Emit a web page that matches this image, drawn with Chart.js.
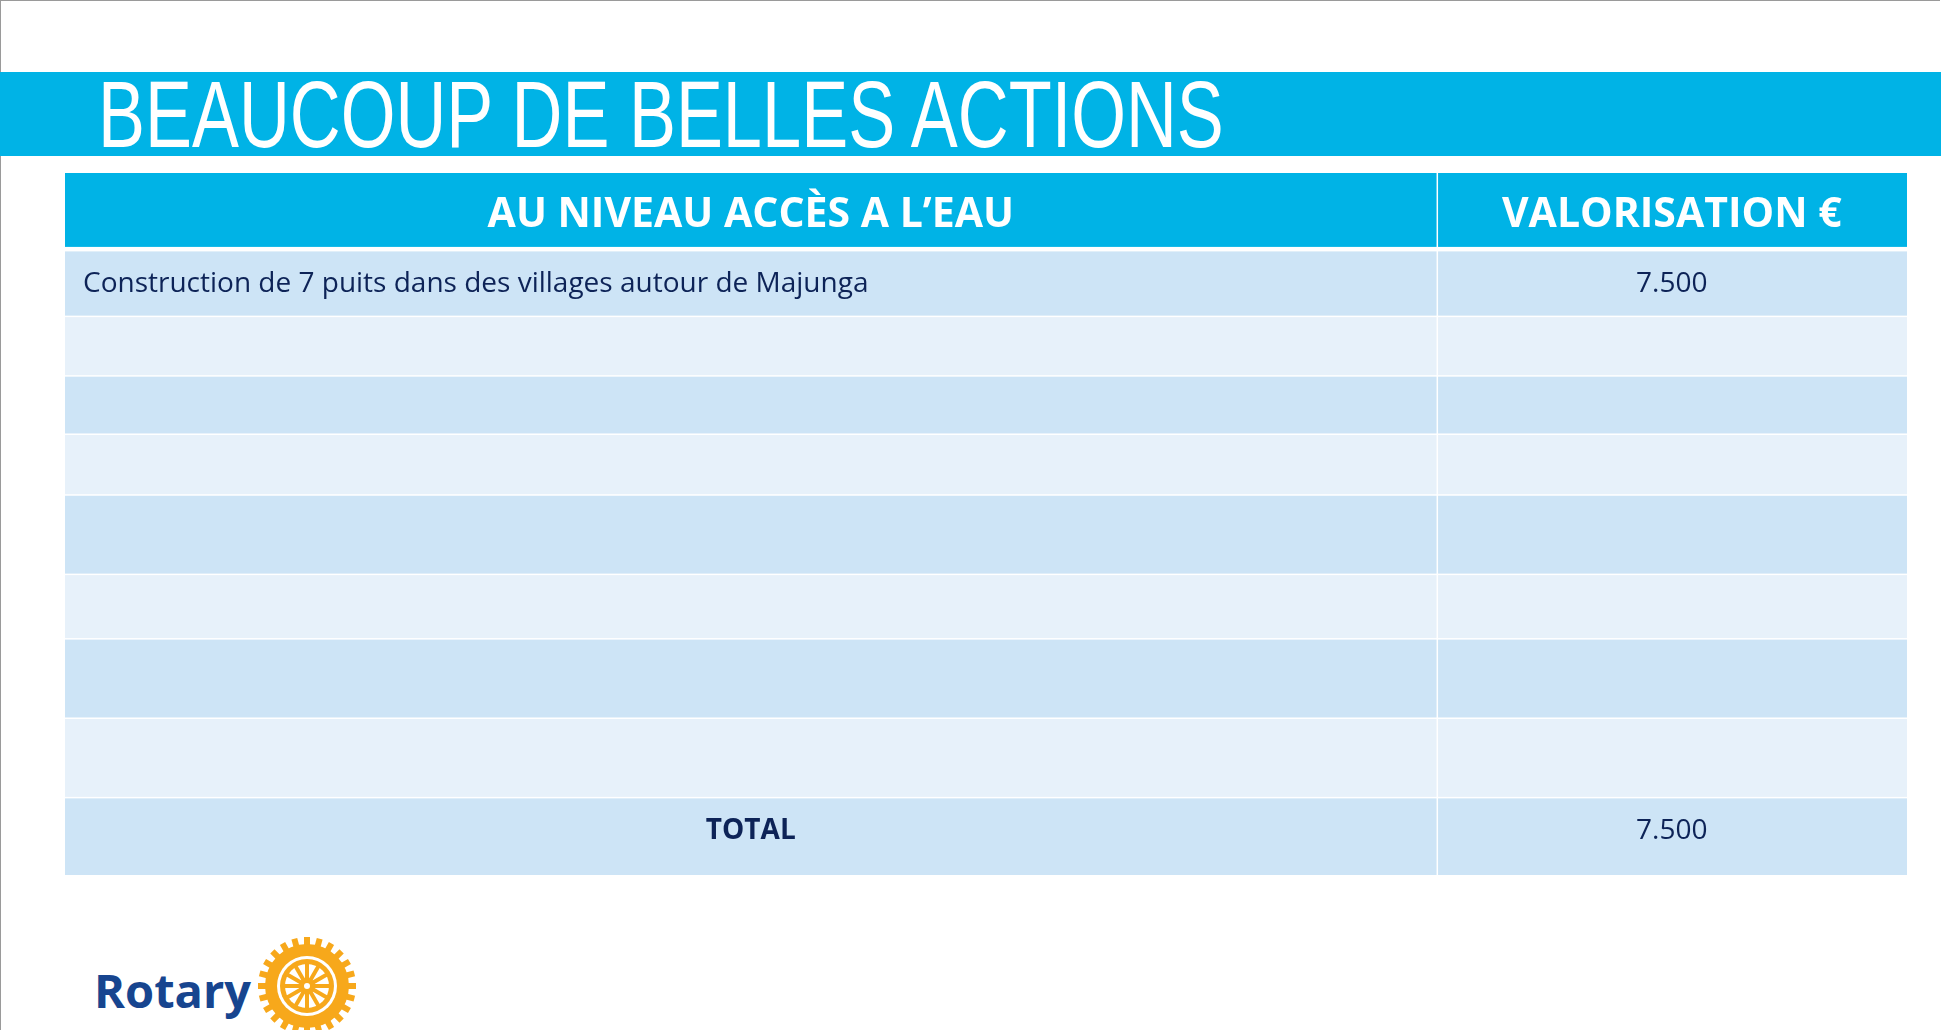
<!DOCTYPE html>
<html><head><meta charset="utf-8">
<script src="https://cdn.jsdelivr.net/npm/chart.js@4"></script>
<style>
body{margin:0;width:1941px;height:1030px;overflow:hidden;background:#fff;position:relative;font-family:"Open Sans",sans-serif}
#frame{position:absolute;left:0;top:0;width:1939px;height:1030px;border-left:1px solid #9a9a9a;border-top:1px solid #9a9a9a}
#band{position:absolute;left:0;top:72px;width:1941px;height:84px;background:#00b3e6}
#title{position:absolute;left:98px;top:68px;font-family:"Liberation Sans Narrow","Liberation Sans",sans-serif;font-size:94px;color:#fff;white-space:nowrap;line-height:1;transform-origin:left top}
#wrap{position:absolute;left:65px;top:173px;width:1842px;height:702px}
#rotary{position:absolute;left:94px;top:958px;font-family:"Open Sans",sans-serif;font-weight:700;font-size:47px;color:#17458f}
#wheel{position:absolute;left:257px;top:936px}
</style></head><body>
<div id="frame"></div>
<div id="band"></div>
<div id="title">BEAUCOUP DE BELLES ACTIONS</div>
<div id="wrap"><canvas id="t"></canvas></div>
<div id="rotary">Rotary</div>
<canvas id="wheel" width="100" height="100"></canvas>
<script>
const headers = ['AU NIVEAU ACCÈS A L’EAU', 'VALORISATION €'];
const actions = ['Construction de 7 puits dans des villages autour de Majunga', '', '', '', '', '', '', '', 'TOTAL'];
const values = ['7.500', '', '', '', '', '', '', '', '7.500'];
// row boundaries (top edge of each row, then bottom of last), header first
const rowEdges = [140, 202, 255, 303, 350, 399, 463, 515, 579, 643, 706];
const colEdges = [0, 0.7446, 1];

const tablePlugin = {
  id: 'table',
  afterDraw(chart) {
    const c = chart.ctx, xs = chart.scales.x, ys = chart.scales.y;
    const gap = 1.5;
    for (let r = 0; r < rowEdges.length - 1; r++) {
      const y0 = ys.getPixelForValue(rowEdges[r]), y1 = ys.getPixelForValue(rowEdges[r + 1]);
      for (let k = 0; k < 2; k++) {
        const x0 = xs.getPixelForValue(colEdges[k]), x1 = xs.getPixelForValue(colEdges[k + 1]);
        c.fillStyle = r === 0 ? '#00b3e6' : (r % 2 === 1 ? '#cde4f6' : '#e7f1fa');
        c.fillRect(x0 + (k ? gap : 0), y0 + (r ? gap : 0), x1 - x0 - (k ? gap : 0), y1 - y0 - (r ? gap : 0) - (r === 0 ? 3 : 0));
        let txt, bold = false, align = 'center', tx = (x0 + x1) / 2, ty;
        if (r === 0) {
          txt = headers[k]; bold = true;
          c.fillStyle = '#fff'; c.font = '700 41px "Open Sans", sans-serif';
          ty = (y0 + y1) / 2 + 4;
        } else {
          const i = r - 1;
          txt = k === 0 ? actions[i] : values[i];
          if (k === 0 && i < actions.length - 1) { align = 'left'; tx = x0 + 18; }
          if (k === 0 && i === actions.length - 1) bold = true;
          c.fillStyle = '#0d2357';
          c.font = (bold ? '700 ' : '400 ') + '28px "Open Sans", sans-serif';
          ty = y0 + 34;
        }
        c.textAlign = align; c.textBaseline = 'middle';
        c.fillText(txt, tx, ty);
      }
    }
  }
};

new Chart(document.getElementById('t'), {
  type: 'scatter',
  data: { datasets: [{ data: [] }] },
  options: {
    responsive: true, maintainAspectRatio: false, animation: false,
    layout: { padding: 0 },
    plugins: { legend: { display: false }, tooltip: { enabled: false } },
    scales: {
      x: { type: 'linear', min: 0, max: 1, display: false },
      y: { type: 'linear', min: rowEdges[0], max: rowEdges[rowEdges.length - 1], reverse: true, display: false }
    }
  },
  plugins: [tablePlugin]
});

// fit title width
const ti = document.getElementById('title');
ti.style.transform = 'scaleX(' + (1126 / ti.offsetWidth) + ')';

// Rotary wheel emblem
const w = document.getElementById('wheel').getContext('2d');
w.translate(50, 50);
w.fillStyle = '#f7a81b';
for (let i = 0; i < 24; i++) { w.save(); w.rotate(i * Math.PI / 12); w.fillRect(-3, -49, 6, 10); w.restore(); }
w.beginPath(); w.arc(0, 0, 42, 0, Math.PI * 2); w.fill();
w.fillStyle = '#fff'; w.beginPath(); w.arc(0, 0, 30, 0, Math.PI * 2); w.fill();
w.fillStyle = '#f7a81b'; w.beginPath(); w.arc(0, 0, 27, 0, Math.PI * 2); w.fill();
w.fillStyle = '#fff'; w.beginPath(); w.arc(0, 0, 22, 0, Math.PI * 2); w.fill();
w.strokeStyle = '#f7a81b'; w.lineWidth = 4;
for (let i = 0; i < 6; i++) { w.save(); w.rotate(i * Math.PI / 6); w.beginPath(); w.moveTo(-24, 0); w.lineTo(24, 0); w.stroke(); w.restore(); }
w.fillStyle = '#f7a81b'; w.beginPath(); w.arc(0, 0, 8, 0, Math.PI * 2); w.fill();
w.fillStyle = '#fff'; w.beginPath(); w.arc(0, 0, 3, 0, Math.PI * 2); w.fill();
</script>
</body></html>
